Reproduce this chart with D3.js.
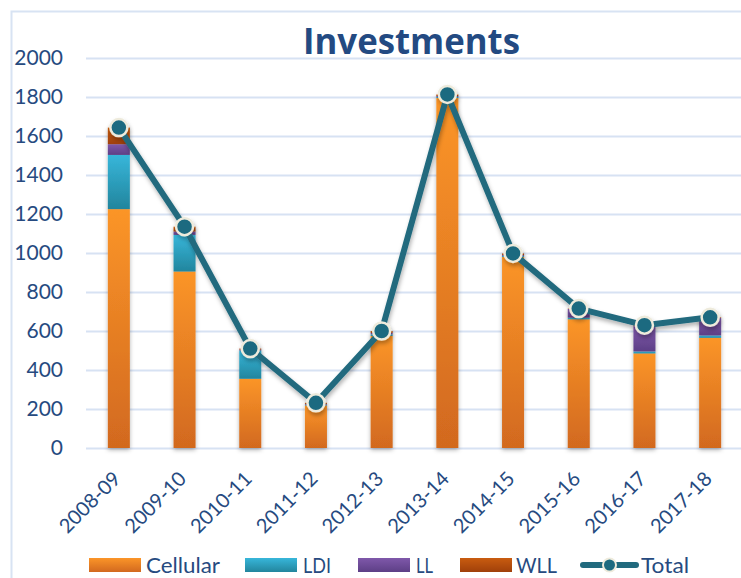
<!DOCTYPE html>
<html>
<head>
<meta charset="utf-8">
<script src="https://cdn.jsdelivr.net/npm/d3@7/dist/d3.min.js"></script>
<style>
  html, body { margin: 0; padding: 0; background: #fff; }
  svg { display: block; font-family: Lato, "Open Sans", sans-serif; }
</style>
</head>
<body>
<svg id="chart" width="741" height="578"></svg>
<script>
// Fiscal years on the category axis
const years = ["2008-09", "2009-10", "2010-11", "2011-12", "2012-13",
               "2013-14", "2014-15", "2015-16", "2016-17", "2017-18"];

// Stacked investment components per year
const cellular = [1225, 905, 355, 218, 575, 1795, 980, 660, 485, 565];
const ldi      = [ 278, 188, 145,   4,   8,    5,   5,   8,  10,  12];
const ll       = [  55,  17,   5,   4,   7,    5,   5,  45, 130,  90];
const wll      = [  85,  25,   5,   6,  10,    8,   8,   2,   5,   3];

// Value axis ticks
const yTicks = [0, 200, 400, 600, 800, 1000, 1200, 1400, 1600, 1800, 2000];

const seriesNames = ["Cellular", "LDI", "LL", "WLL"];
const seriesValues = [cellular, ldi, ll, wll];
const totals = years.map((_, i) => seriesValues.reduce((s, arr) => s + arr[i], 0));

const rows = years.map((y, i) => {
  const r = { year: y };
  seriesNames.forEach((n, k) => r[n] = seriesValues[k][i]);
  return r;
});

const svg = d3.select("#chart");
const W = 741, H = 578;
const plot = { left: 86, right: 743, top: 58, bottom: 448 };

const x = d3.scaleBand().domain(years).range([plot.left, plot.right]).paddingInner(0.665).paddingOuter(0.3325);
const y = d3.scaleLinear().domain([0, 2000]).range([plot.bottom, plot.top]);

const textColor = "#264a80";
const colors = {
  Cellular: ["#fb9528", "#d2691f"],
  LDI:      ["#37b6da", "#22859d"],
  LL:       ["#7f58aa", "#5d3f86"],
  WLL:      ["#c95c10", "#a0400a"]
};
const lineColor = "#216a7e";

const defs = svg.append("defs");
seriesNames.forEach(n => {
  const g = defs.append("linearGradient").attr("id", "g-" + n)
    .attr("x1", 0).attr("y1", 0).attr("x2", 0).attr("y2", 1);
  g.append("stop").attr("offset", "0%").attr("stop-color", colors[n][0]);
  g.append("stop").attr("offset", "100%").attr("stop-color", colors[n][1]);
});
const sh = defs.append("filter").attr("id", "shadow")
  .attr("x", "-30%").attr("y", "-30%").attr("width", "160%").attr("height", "160%");
sh.append("feDropShadow").attr("dx", 0).attr("dy", 2).attr("stdDeviation", 2)
  .attr("flood-color", "#000").attr("flood-opacity", 0.3);
const lsh = defs.append("filter").attr("id", "lshadow")
  .attr("x", "-10%").attr("y", "-10%").attr("width", "120%").attr("height", "120%");
lsh.append("feDropShadow").attr("dx", 1).attr("dy", 3).attr("stdDeviation", 2)
  .attr("flood-color", "#000").attr("flood-opacity", 0.3);

// Frame
svg.append("path")
  .attr("d", `M11.5,${H} V11.5 H${W}`)
  .attr("fill", "none").attr("stroke", "#d8e3f3").attr("stroke-width", 2);

// Title
svg.append("text")
  .attr("x", 411.5).attr("y", 54)
  .attr("text-anchor", "middle")
  .attr("font-family", "'Open Sans', sans-serif")
  .attr("font-size", 36).attr("font-weight", 700)
  .attr("textLength", 217).attr("lengthAdjust", "spacingAndGlyphs")
  .attr("fill", "#234a82")
  .text("Investments");

// Gridlines + value axis labels
const yAxis = d3.axisLeft(y).tickValues(yTicks).tickFormat(d3.format("d"))
  .tickSize(-(W - plot.left)).tickPadding(23);
const yg = svg.append("g").attr("transform", `translate(${plot.left},0)`).call(yAxis);
yg.select(".domain").remove();
yg.selectAll(".tick line").attr("stroke", "#d7e2f3").attr("stroke-width", 2);
yg.selectAll(".tick text").attr("fill", textColor).attr("font-size", 21)
  .attr("font-family", "Lato, sans-serif");

// Stacked bars
const stack = d3.stack().keys(seriesNames)(rows);
const layer = svg.append("g").attr("filter", "url(#shadow)");
stack.forEach(s => {
  layer.append("g").selectAll("rect").data(s).join("rect")
    .attr("x", d => x(d.data.year))
    .attr("width", x.bandwidth())
    .attr("y", d => y(d[1]))
    .attr("height", d => Math.max(0, y(d[0]) - y(d[1])))
    .attr("fill", `url(#g-${s.key})`);
});

// Category axis labels, rotated
const xAxis = d3.axisBottom(x).tickSize(0).tickPadding(0);
const xg = svg.append("g").attr("transform", `translate(0,${plot.bottom})`).call(xAxis);
xg.select(".domain").remove();
xg.selectAll(".tick text")
  .attr("fill", textColor).attr("font-size", 20).attr("font-family", "Lato, sans-serif")
  .attr("text-anchor", "end")
  .attr("y", 0).attr("dy", 0)
  .attr("transform", "translate(3,32) rotate(-45)");

// Total line with markers
const line = d3.line().x((d, i) => x(years[i]) + x.bandwidth() / 2).y(d => y(d));
const lg = svg.append("g").attr("filter", "url(#lshadow)");
lg.append("path").datum(totals).attr("d", line)
  .attr("fill", "none").attr("stroke", lineColor).attr("stroke-width", 6)
  .attr("stroke-linejoin", "round");
lg.selectAll("circle").data(totals).join("circle")
  .attr("cx", (d, i) => x(years[i]) + x.bandwidth() / 2)
  .attr("cy", d => y(d))
  .attr("r", 8.5)
  .attr("fill", "#1d6a80").attr("stroke", "#eeebdc").attr("stroke-width", 2.5);

// Legend
const legendY = 565;
const legendItems = [
  { name: "Cellular", sx: 89, tx: 146, w: 74 },
  { name: "LDI", sx: 245, tx: 303, w: 28 },
  { name: "LL", sx: 358, tx: 416, w: 17 },
  { name: "WLL", sx: 460, tx: 516, w: 41 }
];
const leg = svg.append("g");
legendItems.forEach(it => {
  leg.append("rect").attr("x", it.sx).attr("y", legendY - 7).attr("width", 52).attr("height", 14)
    .attr("fill", `url(#g-${it.name})`);
  leg.append("text").attr("x", it.tx).attr("y", legendY + 7.5)
    .attr("fill", textColor).attr("font-size", 21)
    .attr("textLength", it.w).attr("lengthAdjust", "spacingAndGlyphs")
    .text(it.name);
});
leg.append("line").attr("x1", 583).attr("x2", 636).attr("y1", legendY).attr("y2", legendY)
  .attr("stroke", lineColor).attr("stroke-width", 6).attr("stroke-linecap", "round");
leg.append("circle").attr("cx", 609.5).attr("cy", legendY).attr("r", 6.5)
  .attr("fill", "#1d6a80").attr("stroke", "#eeebdc").attr("stroke-width", 2);
leg.append("text").attr("x", 641).attr("y", legendY + 7.5)
  .attr("fill", textColor).attr("font-size", 21)
  .attr("textLength", 48).attr("lengthAdjust", "spacingAndGlyphs")
  .text("Total");
</script>
</body>
</html>
